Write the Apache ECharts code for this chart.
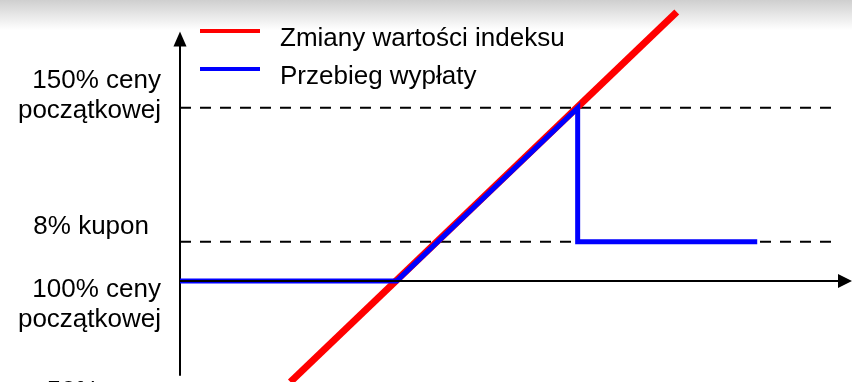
<!DOCTYPE html>
<html lang="pl">
<head>
   <meta charset="utf-8">
   <title>Przebieg wypłaty</title>
   <script src="https://cdn.jsdelivr.net/npm/echarts@6.0.0/dist/echarts.min.js"></script>
   <style>
      html, body { margin: 0; padding: 0; background: #fff; }
      #chart { width: 852px; height: 382px; }
   </style>
</head>
<body>
   <div id="chart"></div>
   <script>
      // values: x = index path (0..100), y = change vs initial price (%)
      var seriesNames = ['Zmiany wartości indeksu', 'Przebieg wypłaty'];
      var indexLine = [[16.6, -29.2], [74.7, 77.7]];
      var payoutLine = [[0, 0], [32.6, 0], [59.8, 50], [59.8, 11.3], [86.8, 11.3]];
      var level150 = [[0, 50], [98.6, 50]];
      var levelCoupon = [[0, 11.3], [98.6, 11.3]];
      var levelLabels = ['150% ceny\npoczątkowej', '8% kupon', '100% ceny\npoczątkowej', '50% ceny'];

      var font = 'Arial, "Liberation Sans", sans-serif';
      var chart = echarts.init(document.getElementById('chart'), null, { renderer: 'canvas' });

      function dashed(data) {
         return {
            type: 'line',
            data: data,
            showSymbol: false,
            silent: true,
            lineStyle: { color: '#000', width: 2, type: [11, 9] },
            z: 1
         };
      }

      function label(text, x, y) {
         return {
            type: 'text',
            x: x,
            y: y,
            style: {
               text: text,
               align: 'right',
               verticalAlign: 'middle',
               font: '26px ' + font,
               lineHeight: 30,
               fill: '#000'
            }
         };
      }

      var option = {
         animation: false,
         backgroundColor: '#fff',
         graphic: [
            {
               type: 'rect',
               shape: { x: 0, y: 0, width: 852, height: 30 },
               style: {
                  fill: new echarts.graphic.LinearGradient(0, 0, 0, 1, [
                     { offset: 0, color: '#cfcfcf' },
                     { offset: 1, color: '#ffffff' }
                  ])
               },
               z: -10
            },
            label(levelLabels[0], 161, 96),
            label(levelLabels[1], 149, 227),
            label(levelLabels[2], 161, 305),
            // next level label is cut off by the bottom edge
            label(levelLabels[3], 161, 392)
         ],
         legend: {
            orient: 'vertical',
            left: 200,
            top: 24,
            padding: 0,
            itemWidth: 60,
            itemHeight: 20,
            itemGap: 8,
            // bar sits at the top of the icon box so the text hangs lower
            icon: 'path://M0,0L60,0L60,4L0,4Z M0,20L60,20',
            itemStyle: { borderWidth: 0 },
            data: seriesNames,
            textStyle: {
               fontFamily: font,
               fontSize: 26,
               color: '#000',
               lineHeight: 30,
               padding: [0, 0, 0, 15]
            }
         },
         grid: { left: 180, right: 7, top: 39, bottom: 7 },
         xAxis: {
            type: 'value',
            min: 0,
            max: 100,
            z: 5,
            axisLine: {
               onZero: true,
               symbol: ['none', 'triangle'],
               symbolSize: [14, 14],
               lineStyle: { color: '#000', width: 2 }
            },
            axisTick: { show: false },
            axisLabel: { show: false },
            splitLine: { show: false }
         },
         yAxis: {
            type: 'value',
            min: -27.2,
            max: 69.9,
            axisLine: {
               onZero: true,
               symbol: ['none', 'triangle'],
               symbolSize: [13, 15],
               lineStyle: { color: '#000', width: 2 }
            },
            axisTick: { show: false },
            axisLabel: { show: false },
            splitLine: { show: false }
         },
         series: [
            dashed(level150),
            dashed(levelCoupon),
            {
               name: seriesNames[0],
               type: 'line',
               data: indexLine,
               showSymbol: false,
               clip: false,
               color: '#ff0000',
               lineStyle: { color: '#ff0000', width: 7 },
               z: 2
            },
            {
               name: seriesNames[1],
               type: 'line',
               data: payoutLine,
               showSymbol: false,
               clip: false,
               color: '#0000ff',
               lineStyle: { color: '#0000ff', width: 5, join: 'miter' },
               z: 3
            }
         ]
      };

      chart.setOption(option);
   </script>
</body>
</html>
